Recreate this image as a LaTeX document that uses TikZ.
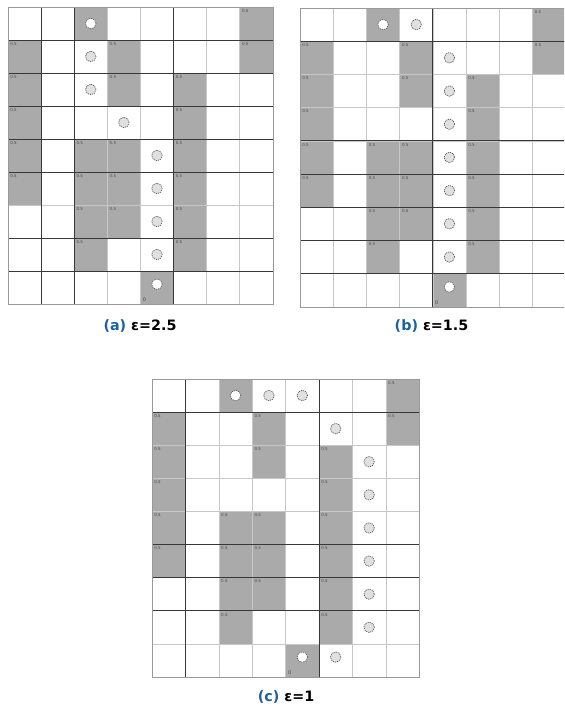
\documentclass[tikz,border=0pt]{standalone}
\usepackage{fontspec}
\setmainfont{DejaVu Sans}
\begin{document}
\begin{tikzpicture}[x=1pt,y=-1pt]
\definecolor{cellgray}{RGB}{170,170,170}
\definecolor{capblue}{RGB}{28,96,160}
\tikzset{
 filledcell/.style={fill=cellgray, draw=none},
 lightline/.style={draw=black!22, line width=0.5pt},
 darkline/.style={draw=black!78, line width=0.8pt},
 borderline/.style={draw=black!40, line width=0.6pt},
 agent/.style={circle, minimum size=10.5pt, inner sep=0pt, draw=black!70, dash pattern=on 1.2pt off 0.9pt, fill=black!12, line width=0.6pt},
 agentw/.style={agent, fill=white},
 tag/.style={font=\fontsize{4}{4}\selectfont, text=black!70, inner sep=2.2pt, anchor=north west},
 starttag/.style={tag, anchor=south west, font=\fontsize{5}{5}\selectfont},
 captext/.style={font=\bfseries\fontsize{14.3}{17}\selectfont, inner sep=0pt}
}
\useasboundingbox (0,0) rectangle (564,708);
\clip (0,0) rectangle (564,708);

% ---------------- grid (a)
\begin{scope}[shift={(8,7)}, x=33.1pt, y=-33pt]
 \foreach \r/\c in {0/2,0/7,1/0,1/3,1/7,2/0,2/3,2/5,3/0,3/5,4/0,4/2,4/3,4/5,5/0,5/2,5/3,5/5,6/2,6/3,6/5,7/2,7/5,8/4}
  \fill[filledcell] (\c,\r) rectangle ++(1,1);
 \foreach \i in {1,...,7} \draw[lightline] (\i,0) -- (\i,9);
 \foreach \j in {1,...,8} \draw[lightline] (0,\j) -- (8,\j);
 \foreach \i in {1,2,5} \draw[darkline] (\i,0) -- (\i,9);
 \foreach \j in {1,2,3,4,5,7,8} \draw[darkline] (0,\j) -- (8,\j);
 \draw[borderline] (0,0) rectangle (8,9);
 \foreach \r/\c in {0/7,1/0,1/3,1/7,2/0,2/3,2/5,3/0,3/5,4/0,4/2,4/3,4/5,5/0,5/2,5/3,5/5,6/2,6/3,6/5,7/2,7/5}
  \node[tag] (at-\r-\c) at (\c,\r) {0.5};
 \node[agentw] (a-0-2) at (2.5,0.5) {};
 \foreach \r/\c in {1/2,2/2,3/3,4/4,5/4,6/4,7/4}
  \node[agent] (a-\r-\c) at (\c+0.5,\r+0.5) {};
 \node[agentw] (a-8-4) at (4.5,8.4) {};
 \node[starttag] (at-8-4) at (4,9) {0};
\end{scope}

% ---------------- grid (b)
\begin{scope}[shift={(300,8)}, x=33.2pt, y=-33.2pt]
 \foreach \r/\c in {0/2,0/7,1/0,1/3,1/7,2/0,2/3,2/5,3/0,3/5,4/0,4/2,4/3,4/5,5/0,5/2,5/3,5/5,6/2,6/3,6/5,7/2,7/5,8/4}
  \fill[filledcell] (\c,\r) rectangle ++(1,1);
 \foreach \i in {1,...,7} \draw[lightline] (\i,0) -- (\i,9);
 \foreach \j in {1,...,8} \draw[lightline] (0,\j) -- (8,\j);
 \foreach \i in {4} \draw[darkline] (\i,0) -- (\i,9);
 \foreach \j in {1,4,5,6,7,8} \draw[darkline] (0,\j) -- (8,\j);
 \draw[borderline] (0,0) rectangle (8,9);
 \foreach \r/\c in {0/7,1/0,1/3,1/7,2/0,2/3,2/5,3/0,3/5,4/0,4/2,4/3,4/5,5/0,5/2,5/3,5/5,6/2,6/3,6/5,7/2,7/5}
  \node[tag] (bt-\r-\c) at (\c,\r) {0.5};
 \node[agentw] (b-0-2) at (2.5,0.5) {};
 \node[agent] (b-0-3) at (3.5,0.5) {};
 \foreach \r/\c in {1/4,2/4,3/4,4/4,5/4,6/4,7/4}
  \node[agent] (b-\r-\c) at (\c+0.5,\r+0.5) {};
 \node[agentw] (b-8-4) at (4.5,8.4) {};
 \node[starttag] (bt-8-4) at (4,9) {0};
\end{scope}

% ---------------- grid (c)
\begin{scope}[shift={(152,379)}, x=33.4pt, y=-33.1pt]
 \foreach \r/\c in {0/2,0/7,1/0,1/3,1/7,2/0,2/3,2/5,3/0,3/5,4/0,4/2,4/3,4/5,5/0,5/2,5/3,5/5,6/2,6/3,6/5,7/2,7/5,8/4}
  \fill[filledcell] (\c,\r) rectangle ++(1,1);
 \foreach \i in {1,...,7} \draw[lightline] (\i,0) -- (\i,9);
 \foreach \j in {1,...,8} \draw[lightline] (0,\j) -- (8,\j);
 \foreach \i in {1,5} \draw[darkline] (\i,0) -- (\i,9);
 \foreach \j in {1,5,6,7} \draw[darkline] (0,\j) -- (8,\j);
 \draw[borderline] (0,0) rectangle (8,9);
 \foreach \r/\c in {0/7,1/0,1/3,1/7,2/0,2/3,2/5,3/0,3/5,4/0,4/2,4/3,4/5,5/0,5/2,5/3,5/5,6/2,6/3,6/5,7/2,7/5}
  \node[tag] (ct-\r-\c) at (\c,\r) {0.5};
 \node[agentw] (c-0-2) at (2.5,0.5) {};
 \node[agent] (c-0-3) at (3.5,0.5) {};
 \node[agent] (c-0-4) at (4.5,0.5) {};
 \node[agent] (c-1-5) at (5.5,1.5) {};
 \foreach \r/\c in {2/6,3/6,4/6,5/6,6/6,7/6}
  \node[agent] (c-\r-\c) at (\c+0.5,\r+0.5) {};
 \node[agentw] (c-8-4) at (4.5,8.4) {};
 \node[agent] (c-8-5) at (5.5,8.4) {};
 \node[starttag] (ct-8-4) at (4,9) {0};
\end{scope}

% ---------------- captions
\node[captext] (capa) at (140,326) {\textcolor{capblue}{(a)} ε=2.5};
\node[captext] (capb) at (431.5,326) {\textcolor{capblue}{(b)} ε=1.5};
\node[captext] (capc) at (286,697) {\textcolor{capblue}{(c)} ε=1};
\end{tikzpicture}
\end{document}
